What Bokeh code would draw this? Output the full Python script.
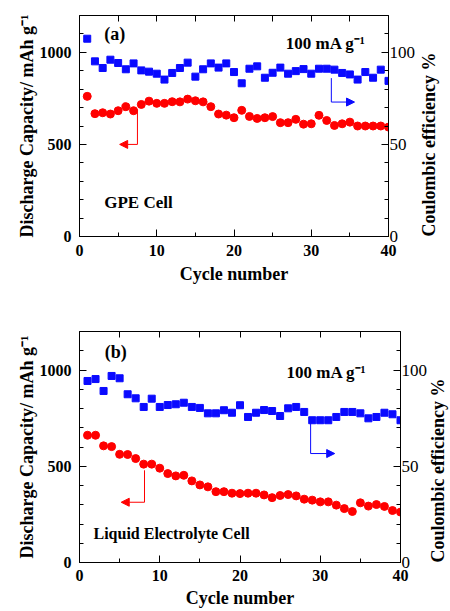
import math
from bokeh.plotting import figure
from bokeh.layouts import column
from bokeh.models import Range1d, LinearAxis, FixedTicker, Label, Arrow, NormalHead
from bokeh.embed import file_html
from bokeh.resources import INLINE

# ---------------- data ----------------
cycles = [1, 2, 3, 4, 5, 6, 7, 8, 9, 10, 11, 12, 13, 14, 15, 16, 17, 18, 19, 20,
          21, 22, 23, 24, 25, 26, 27, 28, 29, 30, 31, 32, 33, 34, 35, 36, 37, 38, 39, 40]

gpe_capacity = [761, 667, 672, 665, 683, 705, 683, 717, 735, 723,
                723, 732, 731, 746, 737, 731, 705, 665, 659, 645,
                685, 652, 641, 645, 651, 618, 618, 636, 610, 612,
                658, 630, 603, 612, 621, 600, 600, 600, 600, 594]
gpe_efficiency = [107.4, 95.1, 91.5, 96.0, 94.2, 90.8, 94.0, 90.2, 89.5, 88.4,
                  85.2, 88.8, 91.5, 94.4, 86.8, 90.8, 94.0, 91.7, 94.0, 89.3,
                  83.2, 91.1, 92.4, 86.2, 88.9, 91.7, 88.4, 89.8, 90.9, 88.4,
                  91.1, 91.1, 90.6, 88.8, 88.0, 85.2, 89.3, 86.2, 90.6, 84.5]

liq_capacity = [661, 661, 606, 602, 562, 561, 540, 511, 511, 490,
                462, 450, 453, 424, 403, 393, 368, 368, 360, 358,
                360, 360, 351, 337, 348, 353, 346, 329, 324, 315,
                315, 298, 280, 265, 310, 293, 301, 291, 270, 262]
liq_efficiency = [94.3, 95.3, 89.1, 96.9, 95.7, 87.4, 85.3, 80.8, 85.1, 80.8,
                  81.8, 82.2, 83.0, 80.8, 80.3, 77.5, 77.5, 79.1, 77.8, 81.7,
                  75.6, 77.8, 79.2, 78.7, 76.1, 80.1, 80.8, 78.2, 73.9, 73.9,
                  73.9, 75.6, 78.2, 78.2, 77.5, 74.9, 75.6, 77.8, 77.0, 73.9]

cap_ticks = [0, 500, 1000]
cap_minor = [100, 200, 300, 400, 600, 700, 800, 900, 1100]
eff_ticks = [0, 50, 100]
eff_minor = [10, 20, 30, 40, 60, 70, 80, 90, 110]
cycle_ticks = [0, 10, 20, 30, 40]
cycle_minor = [5, 15, 25, 35]
top_ticks = [5, 10, 15, 20, 25, 30, 35]

x_label = "Cycle number"
y_label = "Discharge Capacity/ mAh g\u207b\u00b9"
y2_label = "Coulombic efficiency %"
rate_text = "100 mA g\u207b\u00b9"

FONT = "Liberation Serif"
RED = "#ff0000"
BLUE = "#0a0aff"


def style_axis(ax, bold=True, size="16px"):
    ax.axis_line_color = "black"
    ax.axis_line_width = 1
    ax.major_tick_line_color = "black"
    ax.minor_tick_line_color = "black"
    ax.major_tick_in = 7
    ax.major_tick_out = 0
    ax.minor_tick_in = 4
    ax.minor_tick_out = 0
    ax.major_label_text_font = FONT
    ax.major_label_text_font_style = "bold" if bold else "normal"
    ax.major_label_text_font_size = size
    ax.major_label_text_color = "black"
    ax.axis_label_text_font = FONT
    ax.axis_label_text_font_style = "bold"
    ax.axis_label_text_color = "black"


def add_text(p, x, y, txt, size):
    p.add_layout(Label(x=x, y=y, text=txt, text_font=FONT,
                       text_font_style="bold", text_font_size=size,
                       text_color="black", text_baseline="middle",
                       text_align="left"))


def make_panel(cap, eff, tag, cell_text, fw, fh, bl, br, bt, bb,
               tag_xy, rate_xy, cell_xy, cell_size,
               red_arrow, blue_arrow, xstand, xlab_stand, y2stand,
               axis_size="18px", ylab_size="17px"):
    p = figure(frame_width=fw, frame_height=fh, output_backend="svg",
               toolbar_location=None, x_range=Range1d(0, 40),
               y_range=Range1d(0, 1200),
               min_border_left=bl, min_border_right=br,
               min_border_top=bt, min_border_bottom=bb)
    p.extra_y_ranges = {"ce": Range1d(0, 120)}
    p.xgrid.visible = False
    p.ygrid.visible = False
    p.outline_line_color = "black"
    p.background_fill_color = "white"
    p.border_fill_color = "white"

    xa = p.xaxis[0]
    xa.ticker = FixedTicker(ticks=cycle_ticks, minor_ticks=cycle_minor)
    xa.axis_label = x_label
    style_axis(xa)
    xa.axis_label_text_font_size = axis_size
    xa.major_label_standoff = xstand
    xa.axis_label_standoff = xlab_stand

    ya = p.yaxis[0]
    ya.ticker = FixedTicker(ticks=cap_ticks, minor_ticks=cap_minor)
    ya.axis_label = y_label
    style_axis(ya)
    ya.axis_label_text_font_size = ylab_size
    ya.major_label_standoff = 8
    ya.axis_label_standoff = 0

    ra = LinearAxis(y_range_name="ce",
                    ticker=FixedTicker(ticks=eff_ticks, minor_ticks=eff_minor),
                    axis_label=y2_label)
    style_axis(ra, bold=False, size="17px")
    ra.axis_label_text_font_size = ylab_size
    ra.major_label_standoff = 1
    ra.axis_label_standoff = y2stand
    ra.axis_label_orientation = math.pi / 2
    ra.axis_label_align = "start"
    p.add_layout(ra, "right")

    ta = LinearAxis(ticker=FixedTicker(ticks=top_ticks))
    style_axis(ta)
    ta.major_tick_in = 6
    ta.major_label_overrides = {t: "" for t in top_ticks}
    ta.major_label_standoff = 0
    p.add_layout(ta, "above")

    p.scatter(cycles, cap, marker="circle", size=8, fill_color=RED,
              line_color=RED)
    p.scatter(cycles, eff, marker="square", size=7, fill_color=BLUE,
              line_color=BLUE, y_range_name="ce")

    add_text(p, tag_xy[0], tag_xy[1], tag, "18px")
    add_text(p, rate_xy[0], rate_xy[1], rate_text, "17px")
    add_text(p, cell_xy[0], cell_xy[1], cell_text, cell_size)

    # red arrow (points to left axis)
    rx, ry0, ry1, rx1 = red_arrow
    p.add_layout(Arrow(end=None, x_start=rx, y_start=ry0, x_end=rx, y_end=ry1,
                       line_color=RED, line_width=1))
    p.add_layout(Arrow(end=NormalHead(size=8, fill_color=RED, line_color=RED),
                       x_start=rx, y_start=ry1, x_end=rx1, y_end=ry1,
                       line_color=RED, line_width=1))
    # blue arrow (points to right axis)
    bx, by0, by1, bx1 = blue_arrow
    p.add_layout(Arrow(end=None, x_start=bx, y_start=by0, x_end=bx, y_end=by1,
                       line_color=BLUE, line_width=1, y_range_name="ce"))
    p.add_layout(Arrow(end=NormalHead(size=8, fill_color=BLUE, line_color=BLUE),
                       x_start=bx, y_start=by1, x_end=bx1, y_end=by1,
                       line_color=BLUE, line_width=1, y_range_name="ce"))
    return p


p1 = make_panel(gpe_capacity, gpe_efficiency, "(a)", "GPE Cell",
                fw=309, fh=221, bl=79, br=62, bt=15, bb=74,
                tag_xy=(3.2, 1098), rate_xy=(26.7, 1049), cell_xy=(3.2, 185),
                cell_size="17px",
                red_arrow=(7.5, 690, 500, 5.2),
                blue_arrow=(32.6, 86, 73, 35.6),
                xstand=8, xlab_stand=5, y2stand=11, ylab_size="18px")

p2 = make_panel(liq_capacity, liq_efficiency, "(b)", "Liquid Electrolyte Cell",
                fw=321, fh=231, bl=73, br=56, bt=21, bb=49,
                tag_xy=(3.15, 1096), rate_xy=(25.8, 986), cell_xy=(1.74, 149),
                cell_size="16px",
                red_arrow=(8.1, 479, 313, 5.2),
                blue_arrow=(28.8, 73.5, 56.6, 31.8),
                xstand=7, xlab_stand=4, y2stand=8, ylab_size="18px")

layout = column(p1, p2, spacing=0)
open("out.html", "w").write(file_html(layout, INLINE))
